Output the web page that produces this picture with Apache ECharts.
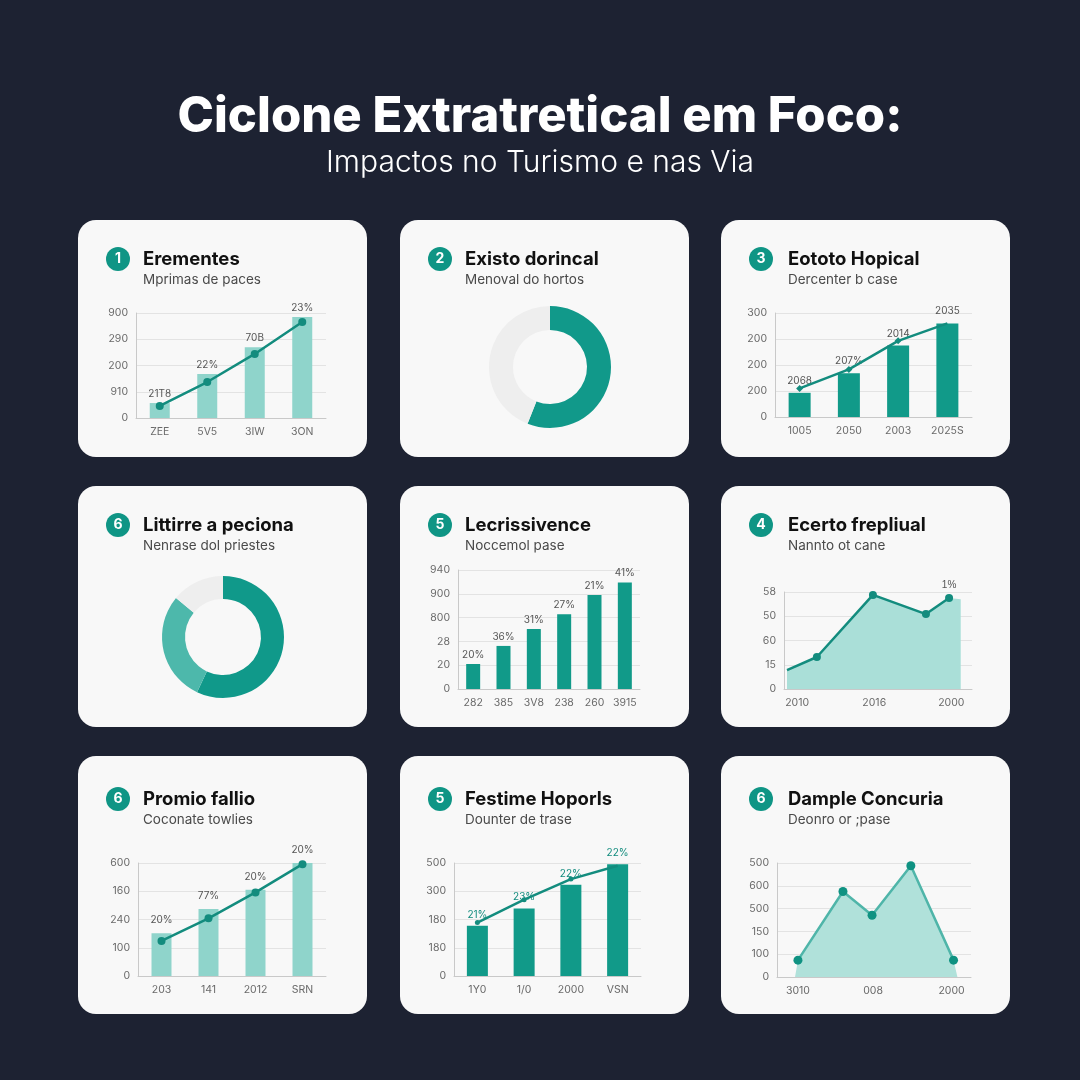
<!DOCTYPE html>
<html><head><meta charset="utf-8">
<script src="https://cdn.jsdelivr.net/npm/echarts@6/dist/echarts.min.js"></script>
<style>html,body{margin:0;padding:0;background:#1d2232;}#c{width:1080px;height:1080px;}</style>
</head><body><div id="c"></div>
<script>
// ---------- DATA ----------
const mainTitle = 'Ciclone Extratretical em Foco:';
const mainSubtitle = 'Impactos no Turismo e nas Via';
const cardNumbers = ['1','2','3','6','5','4','6','5','6'];
const cardTitles = ['Erementes','Existo dorincal','Eototo Hopical','Littirre a peciona','Lecrissivence','Ecerto frepliual','Promio fallio','Festime Hoporls','Dample Concuria'];
const cardSubtitles = ['Mprimas de paces','Menoval do hortos','Dercenter b case','Nenrase dol priestes','Noccemol pase','Nannto ot cane','Coconate towlies','Dounter de trase','Deonro or ;pase'];

const c1Cats = ['ZEE','5V5','3IW','3ON'];
const c1Bars = [57,168,270,385];
const c1Line = [46,137,244,366];
const c1Labels = ['21T8','22%','70B','23%'];
const c1YTicks = ['0','910','200','290','900'];

const c2Values = [56,44];

const c3Cats = ['1005','2050','2003','2025S'];
const c3Bars = [93,168,275,360];
const c3Line = [110,183,293,360];
const c3Labels = ['2068','207%','2014','2035'];
const c3YTicks = ['0','200','200','200','300'];

const c4Values = [57,29,14];

const c5Cats = ['282','385','3V8','238','260','3915'];
const c5Bars = [105,181,252,314,395,448];
const c5Labels = ['20%','36%','31%','27%','21%','41%'];
const c5YTicks = ['0','20','28','800','900','940'];

const c6X = [1.6,17.5,47.3,75.5,87.8];
const c6Y = [78,132,388,309,375];
const c6FillEndX = 94;
const c6FillEndY = 370;
const c6PeakLabel = '1%';
const c6XTickPos = [7,48,89];
const c6XTicks = ['2010','2016','2000'];
const c6YTicks = ['0','15','60','50','58'];

const c7Cats = ['203','141','2012','SRN'];
const c7Bars = [151,237,305,400];
const c7Line = [124,204,296,396];
const c7Labels = ['20%','77%','20%','20%'];
const c7YTicks = ['0','100','240','160','600'];

const c8Cats = ['1Y0','1/0','2000','VSN'];
const c8Bars = [178,239,323,396];
const c8Line = [189,270,343,390];
const c8Labels = ['21%','23%','22%','22%'];
const c8YTicks = ['0','180','180','300','500'];

const c9X = [10.8,34,49,69,91];
const c9Y = [74,375,271,488,74];
const c9FillStartX = 9.3;
const c9FillEndX = 93;
const c9XTickPos = [10.8,49.5,90];
const c9XTicks = ['3010','008','2000'];
const c9YTicks = ['0','100','150','500','600','500'];

// ---------- STYLE / LAYOUT ----------
const teal = '#0f9585', tealLine = '#138c7e', tealLight = '#8fd4cb', grayRing = '#eeeeee';
const FONT = 'Inter, "Open Sans", sans-serif';
const cardX = [78,400,721], cardW = 289;
const cardY = [220,486,756], cardH = [237,241,258];
const badgeY = [259,525,799], subY = [280,546,820];

const graphics = [];
graphics.push({type:'text', left:'center', top:93, style:{text:mainTitle, fill:'#ffffff', font:'800 49px '+FONT}});
graphics.push({type:'text', left:'center', top:148, style:{text:mainSubtitle, fill:'#ffffff', font:'300 30px '+FONT}});
for (let r=0;r<3;r++) for (let c=0;c<3;c++){
  const i=r*3+c;
  graphics.push({type:'rect', z:0, shape:{x:cardX[c], y:cardY[r], width:cardW, height:cardH[r], r:18}, style:{fill:'#f8f8f8'}});
  const bx = cardX[c]+40;
  graphics.push({type:'circle', z:1, shape:{cx:bx, cy:badgeY[r], r:12}, style:{fill:teal}});
  graphics.push({type:'text', z:2, x:bx, y:badgeY[r], style:{text:cardNumbers[i], fill:'#fff', font:'700 14px '+FONT, align:'center', verticalAlign:'middle', textAlign:'center', textVerticalAlign:'middle'}});
  graphics.push({type:'text', z:2, x:cardX[c]+65+(c===2?2:0), y:badgeY[r], style:{text:cardTitles[i], fill:'#111', font:'700 18.5px '+FONT, verticalAlign:'middle', textVerticalAlign:'middle'}});
  graphics.push({type:'text', z:2, x:cardX[c]+65+(c===2?2:0), y:subY[r], style:{text:cardSubtitles[i], fill:'#4a4a4a', font:'400 13.5px '+FONT, verticalAlign:'middle', textVerticalAlign:'middle'}});
}

const grids = [
  {left:136, top:313, width:190, height:105},
  {left:775, top:313, width:197, height:104},
  {left:458, top:570, width:182, height:119},
  {left:784, top:592, width:188, height:97},
  {left:138, top:863, width:188, height:113},
  {left:454, top:863, width:187, height:113},
  {left:777, top:863, width:194, height:114}
];
const axLine = {show:true, lineStyle:{color:'#c9c9c9', width:1}};
const lbl = {color:'#6a6a6a', fontSize:10.5, fontFamily:FONT};
function yAx(gi, ticks){
  return {type:'value', gridIndex:gi, min:0, max:(ticks.length-1)*100, interval:100, axisLine:axLine, axisTick:{show:false},
    splitLine:{lineStyle:{color:'#e3e3e3'}}, axisLabel:Object.assign({margin:8, formatter:v=>ticks[Math.round(v/100)]}, lbl)};
}
function xCat(gi, cats){
  return {type:'category', gridIndex:gi, data:cats, axisLine:axLine, axisTick:{show:false}, axisLabel:Object.assign({margin:8, interval:0}, lbl)};
}
function xVal(gi, pos, ticks){
  return {type:'value', gridIndex:gi, min:0, max:100, axisLine:axLine, axisTick:{show:false}, splitLine:{show:false},
    axisLabel:Object.assign({margin:8, customValues:pos, formatter:v=>{const k=pos.indexOf(v); return k>=0?ticks[k]:'';}}, lbl)};
}
function barLabel(arr, color, dist){
  return {show:true, position:'top', distance:dist||4, color:color||'#555', fontSize:10, fontFamily:FONT, formatter:p=>arr[p.dataIndex]};
}

const xAxes = [xCat(0,c1Cats), xCat(1,c3Cats), xCat(2,c5Cats), xVal(3,c6XTickPos,c6XTicks), xCat(4,c7Cats), xCat(5,c8Cats), xVal(6,c9XTickPos,c9XTicks)];
const yAxes = [yAx(0,c1YTicks), yAx(1,c3YTicks), yAx(2,c5YTicks), yAx(3,c6YTicks), yAx(4,c7YTicks), yAx(5,c8YTicks), yAx(6,c9YTicks)];

const c6Pts = c6X.map((x,k)=>[x,c6Y[k]]);
const c6Area = c6Pts.concat([[c6FillEndX,c6FillEndY]]);
const c9Pts = c9X.map((x,k)=>[x,c9Y[k]]);
const c9Area = [[c9FillStartX,0]].concat(c9Pts, [[c9FillEndX,0]]);

const series = [
  // card 1
  {type:'bar', xAxisIndex:0, yAxisIndex:0, data:c1Bars, barWidth:20, itemStyle:{color:tealLight}, label:barLabel(c1Labels)},
  {type:'line', xAxisIndex:0, yAxisIndex:0, data:c1Line, symbol:'circle', symbolSize:8, lineStyle:{color:tealLine, width:2.5}, itemStyle:{color:tealLine}, z:5},
  // card 2
  {type:'pie', center:[550,367], radius:[37,61], startAngle:90, clockwise:true, label:{show:false}, silent:true,
    data:c2Values.map((v,k)=>({value:v, itemStyle:{color:k===0?'#11998a':grayRing}}))},
  // card 3
  {type:'bar', xAxisIndex:1, yAxisIndex:1, data:c3Bars, barWidth:22, itemStyle:{color:'#119a89'}, label:barLabel(c3Labels, '#555', 7)},
  {type:'line', xAxisIndex:1, yAxisIndex:1, data:c3Line.map((v,k)=>({value:v, symbol:k<3?'diamond':'none'})), symbolSize:7, lineStyle:{color:tealLine, width:2.5}, itemStyle:{color:tealLine}, z:5},
  // card 4 donut
  {type:'pie', center:[223,637], radius:[38,61], startAngle:90, clockwise:true, label:{show:false}, silent:true,
    data:c4Values.map((v,k)=>({value:v, itemStyle:{color:['#10998a','#4db8ab',grayRing][k]}}))},
  // card 5
  {type:'bar', xAxisIndex:2, yAxisIndex:2, data:c5Bars, barWidth:14, itemStyle:{color:'#119a89'}, label:barLabel(c5Labels)},
  // card 6
  {type:'line', xAxisIndex:3, yAxisIndex:3, data:c6Area, symbol:'none', lineStyle:{width:0}, areaStyle:{color:'#aadfd8', opacity:1}, z:2},
  {type:'line', xAxisIndex:3, yAxisIndex:3, data:c6Pts.map((p,k)=>({value:p, symbol:k===0?'none':'circle',
      label:k===c6Pts.length-1?{show:true, position:'top', distance:4, color:'#555', fontSize:10, formatter:()=>c6PeakLabel}:{show:false}})),
    symbolSize:8, lineStyle:{color:tealLine, width:2.5}, itemStyle:{color:tealLine}, z:5},
  // card 7
  {type:'bar', xAxisIndex:4, yAxisIndex:4, data:c7Bars, barWidth:20, itemStyle:{color:tealLight}, label:barLabel(c7Labels, '#555', 8)},
  {type:'line', xAxisIndex:4, yAxisIndex:4, data:c7Line, symbol:'circle', symbolSize:8, lineStyle:{color:tealLine, width:2.5}, itemStyle:{color:tealLine}, z:5},
  // card 8
  {type:'bar', xAxisIndex:5, yAxisIndex:5, data:c8Bars, barWidth:21, itemStyle:{color:'#119a89'}, label:barLabel(c8Labels, '#138c7e', 6)},
  {type:'line', xAxisIndex:5, yAxisIndex:5, data:c8Line.map((v,k)=>({value:v, symbol:k<3?'circle':'none'})), symbolSize:5, lineStyle:{color:tealLine, width:2.5}, itemStyle:{color:tealLine}, z:5},
  // card 9
  {type:'line', xAxisIndex:6, yAxisIndex:6, data:c9Area, symbol:'none', lineStyle:{width:0}, areaStyle:{color:'#b0e1da', opacity:1}, z:2},
  {type:'line', xAxisIndex:6, yAxisIndex:6, data:c9Pts, symbol:'circle', symbolSize:9, lineStyle:{color:'#4fb5a9', width:2.5}, itemStyle:{color:'#0f9282'}, z:5}
];

const chart = echarts.init(document.getElementById('c'), null, {renderer:'canvas'});
chart.setOption({
  backgroundColor:'#1d2232',
  animation:false,
  graphic:graphics,
  grid:grids,
  xAxis:xAxes,
  yAxis:yAxes,
  series:series
});
</script></body></html>
